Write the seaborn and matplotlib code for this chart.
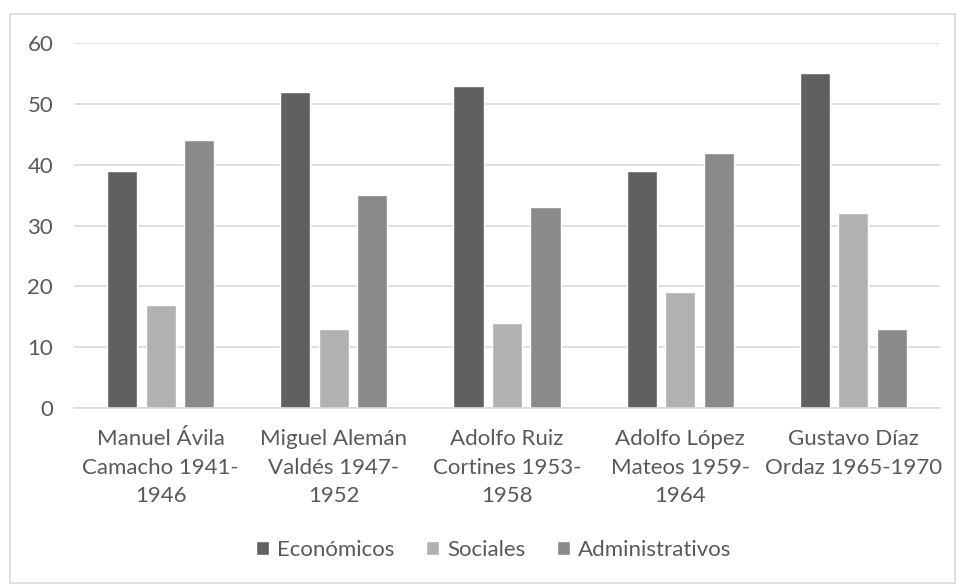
import matplotlib
matplotlib.use("Agg")
import matplotlib.pyplot as plt
import seaborn as sns
import pandas as pd
from matplotlib.patches import Rectangle

categories = ["Manuel Ávila\nCamacho 1941-\n1946",
              "Miguel Alemán\nValdés 1947-\n1952",
              "Adolfo Ruiz\nCortines 1953-\n1958",
              "Adolfo López\nMateos 1959-\n1964",
              "Gustavo Díaz\nOrdaz 1965-1970"]
series = ["Económicos", "Sociales", "Administrativos"]
economicos = [39, 52, 53, 39, 55]
sociales = [17, 13, 14, 19, 32]
administrativos = [44, 35, 33, 42, 13]
colors = ["#606060", "#b1b1b1", "#8a8a8a"]

rows = []
for s, vals in zip(series, [economicos, sociales, administrativos]):
    for c, v in zip(categories, vals):
        rows.append({"cat": c, "serie": s, "val": v})
df = pd.DataFrame(rows)

sns.set_theme(style="white")
plt.rcParams["font.family"] = ["Lato", "DejaVu Sans"]
txt = "#595959"
fs = 16

fig = plt.figure(figsize=(9.56, 5.84), dpi=100)
ax = fig.add_axes([74/956, 1-408/584, (940-74)/956, (408-43)/584])
sns.barplot(data=df, x="cat", y="val", hue="serie", hue_order=series,
            order=categories, palette=colors, width=0.667, gap=0.22,
            saturation=1, ax=ax, legend=True)

ax.set_ylim(0, 60)
ax.set_yticks(range(0, 61, 10))
ax.set_xlim(-0.5, 4.5)
ax.grid(axis="y", color="#d9d9d9", linewidth=1.2)
ax.set_axisbelow(True)
for sp in ["top", "right", "left"]:
    ax.spines[sp].set_visible(False)
ax.spines["bottom"].set_color("#d9d9d9")
ax.spines["bottom"].set_linewidth(1.2)
ax.set_xlabel("")
ax.set_ylabel("")
ax.tick_params(axis="y", length=0, pad=15, labelsize=fs, labelcolor=txt)
ax.tick_params(axis="x", length=0, pad=15, labelsize=fs, labelcolor=txt)
for lab in ax.get_xticklabels():
    lab.set_linespacing(1.55)
    lab.set_horizontalalignment("center")

ax.legend(loc="center", bbox_to_anchor=(493.5/956, 1-550/584),
          bbox_transform=fig.transFigure, ncol=3, frameon=False,
          fontsize=fs, labelcolor=txt, handlelength=0.62, handleheight=0.62,
          handletextpad=0.35, columnspacing=1.4)

fig.patches.append(Rectangle((10/956, 1-583/584), 945/956, 569/584,
                             transform=fig.transFigure, fill=False,
                             edgecolor="#d9d9d9", linewidth=1.2))
fig.savefig("out.png", dpi=100, facecolor="white")
